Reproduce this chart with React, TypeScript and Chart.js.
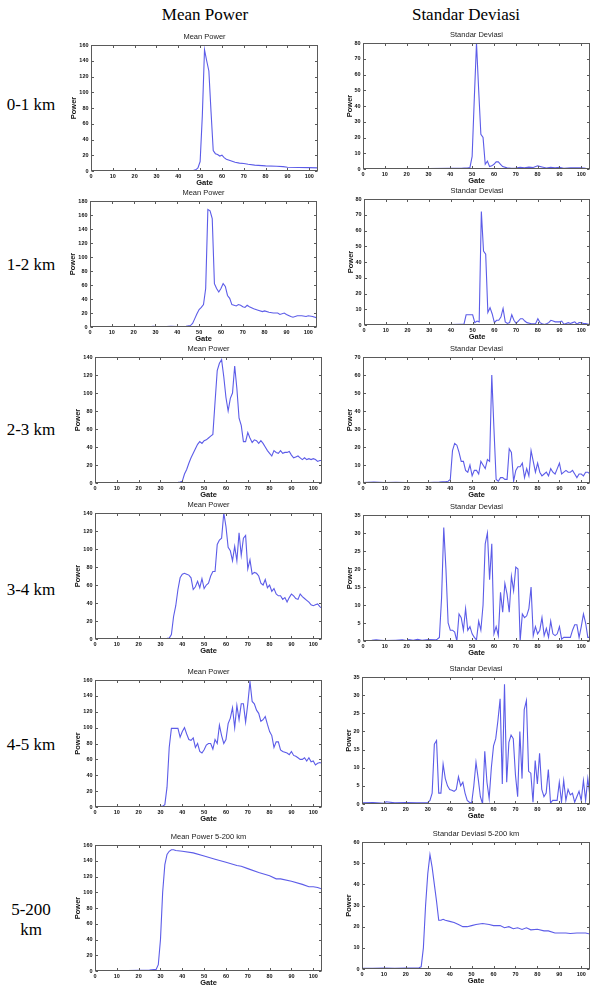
import React, { useEffect, useRef } from "react";
import { Chart, registerables } from "chart.js";

Chart.register(...registerables);

type Pt = [number, number];

// Gate / power samples for each range bin (gate, value)
const mean01: Pt[] = [[0,0.5],[5,0.3],[10,0.4],[15,0.3],[20,0.5],[25,0.3],[30,0.4],[35,0.3],[40,0.5],[45,0.6],[47,0.8],[48,1.5],[49,4],[50,12],[51,70],[52,154],[53,140],[54,127],[55,75],[56,26],[57,22],[58,21],[59,19],[60,20],[61,17],[62,15],[64,13],[66,11],[68,10],[70,9.5],[72,8.5],[75,7.5],[80,6.5],[85,6],[88,5.5],[90,4.8],[95,4.5],[100,4.3],[104,4]];
const sd01: Pt[] = [[0,0.2],[10,0.3],[20,0.2],[30,0.3],[40,0.4],[45,0.5],[48,0.8],[49,1],[50,8],[51,45],[52,80],[53,50],[54,22],[55,20],[56,3],[57,5],[58,1.5],[59,2],[60,3],[61,4.5],[62,4.5],[63,3],[64,1.5],[66,0.7],[68,0.5],[70,0.6],[72,1],[74,0.8],[76,1.2],[78,1],[80,2],[82,1.3],[84,0.6],[86,1],[88,0.8],[90,1],[92,0.5],[95,0.8],[98,0.7],[100,0.8],[102,0.4],[104,0.3]];

const mean12: Pt[] = [[0,0.3],[10,0.3],[20,0.3],[28,0.5],[29,1],[30,0.5],[35,0.5],[37,1],[40,0.8],[44,1],[46,2],[47,5],[48,12],[49,19],[50,25],[51,28],[52,32],[53,55],[54,168],[55,166],[56,155],[57,62],[58,55],[59,50],[60,55],[61,62],[62,58],[63,45],[64,41],[65,32],[66,31],[67,30],[68,32],[69,31],[70,29],[71,28],[72,31],[73,29],[75,26],[77,24],[79,22],[80,23],[82,21],[84,20],[86,20],[87,18],[89,20],[90,18],[92,15],[93,14],[95,16],[97,16],[99,15],[100,16],[102,15],[104,13]];
const sd12: Pt[] = [[0,0.2],[10,0.2],[20,0.2],[30,0.2],[38,0.3],[40,0.3],[44,0.4],[46,0.5],[47,6.5],[48,6.5],[49,6.5],[50,6.5],[51,1.5],[52,2.5],[53,2],[54,72],[55,47],[56,45],[57,8],[58,11],[59,7],[60,1.5],[61,3],[62,3],[63,5],[64,10.5],[65,2],[66,1],[67,1.5],[68,6.5],[69,3],[70,1],[71,2.5],[72,4],[73,4],[74,2.5],[75,1.5],[77,0.8],[79,1],[80,4],[81,1.5],[82,0.8],[83,0.3],[84,0.8],[85,1.5],[86,3],[87,2.5],[88,2],[90,2],[91,2.5],[92,0.5],[93,1],[94,1.5],[95,1],[96,1.5],[97,2],[98,0.5],[99,1.5],[100,1.5],[101,1],[102,1],[104,0.3]];

const mean23: Pt[] = [[0,0.5],[5,0.3],[10,0.5],[15,0.3],[20,0.5],[25,0.3],[30,0.4],[35,0.5],[38,0.8],[39,1],[40,2],[41,10],[42,15],[43,22],[44,28],[45,33],[46,38],[47,43],[48,46],[49,44],[50,47],[51,48],[52,50],[53,52],[54,54],[55,90],[56,125],[57,133],[58,137],[59,118],[60,95],[61,80],[62,94],[63,100],[64,130],[65,105],[66,72],[67,64],[68,46],[69,46],[70,56],[71,50],[72,45],[73,48],[74,47],[75,44],[76,47],[77,44],[78,40],[79,36],[80,33],[81,30],[82,36],[83,34],[84,33],[85,36],[86,33],[87,34],[88,34],[89,35],[90,31],[91,28],[92,29],[93,30],[94,28],[95,26],[96,28],[97,26],[98,27],[99,26],[100,27],[101,26],[102,24],[103,25],[104,25]];
const sd23: Pt[] = [[0,0.3],[5,0.5],[10,0.3],[15,0.4],[20,0.3],[25,0.2],[30,0.3],[35,0.5],[38,0.8],[39,1],[40,2],[41,18],[42,22],[43,21],[44,17],[45,12],[46,12],[47,7],[48,6],[49,10],[50,4],[51,7],[52,7],[53,5],[54,12],[55,10],[56,8],[57,13],[58,12],[59,60],[60,30],[61,2],[62,1],[63,3],[64,3],[65,2],[66,2],[67,19],[68,17],[69,1],[70,7],[71,9],[72,9],[73,11],[74,3],[75,8],[76,4],[77,18],[78,12],[79,6],[80,11],[81,6],[82,4],[83,5],[84,6],[85,4],[86,8],[87,6],[88,5],[89,8],[90,11],[91,5],[92,6],[93,7],[94,6],[95,6],[96,7],[97,5],[98,3],[99,5],[100,5],[101,4],[102,6],[103,6],[104,5]];

const mean34: Pt[] = [[0,0.5],[5,0.3],[10,0.5],[15,0.3],[20,0.5],[25,0.3],[30,0.6],[33,0.8],[34,1],[35,5],[36,25],[37,37],[38,55],[39,68],[40,72],[41,73],[42,72],[43,71],[44,68],[45,55],[46,58],[47,64],[48,57],[49,67],[50,56],[51,60],[52,62],[53,70],[54,75],[55,75],[56,105],[57,110],[58,112],[59,140],[60,125],[61,102],[62,98],[63,87],[64,103],[65,87],[66,118],[67,93],[68,112],[69,115],[70,78],[71,88],[72,72],[73,74],[74,73],[75,70],[76,62],[77,60],[78,66],[79,57],[80,60],[81,53],[82,56],[83,50],[84,48],[85,48],[86,44],[87,46],[88,41],[89,46],[90,50],[91,48],[92,45],[93,44],[94,50],[95,47],[96,45],[97,43],[98,41],[99,38],[100,37],[101,38],[102,39],[103,36],[104,34]];
const sd34: Pt[] = [[0,0.1],[4,0.2],[6,0.3],[8,0.2],[10,0.1],[15,0.2],[18,0.3],[20,0.1],[21,0.4],[23,0.2],[25,0.5],[27,0.2],[30,0.4],[33,0.3],[34,0.5],[35,1],[36,12],[37,31.5],[38,20],[39,5],[40,3],[41,3],[42,2.5],[43,0],[44,7.5],[45,6.5],[46,3],[47,9],[48,3],[49,4],[50,2],[51,1],[52,0.3],[53,5.5],[54,3],[55,10],[56,27],[57,30],[58,17],[59,27],[60,2],[61,4],[62,1.5],[63,13.5],[64,8],[65,16],[66,13],[67,8],[68,18],[69,14],[70,20.5],[71,20],[72,0],[73,7.5],[74,6.5],[75,7],[76,9],[77,15],[78,1.5],[79,4],[80,2],[81,3],[82,6.5],[83,1.5],[84,3.5],[85,1],[86,5.5],[87,2],[88,1.5],[89,2],[90,4],[91,0.5],[92,1],[93,1],[94,1],[95,1],[96,3],[97,4.5],[98,4.5],[99,1],[100,4],[101,7.5],[102,5],[103,1],[104,1]];

const mean45: Pt[] = [[0,0.5],[5,0.3],[10,0.5],[15,0.3],[20,0.6],[25,0.3],[28,0.6],[30,0.8],[31,1],[32,3],[33,25],[34,75],[35,99],[36,99],[37,99],[38,99],[39,88],[40,95],[41,100],[42,92],[43,85],[44,84],[45,87],[46,75],[47,80],[48,70],[49,68],[50,72],[51,78],[52,80],[53,80],[54,73],[55,85],[56,80],[57,103],[58,90],[59,80],[60,85],[61,105],[62,112],[63,125],[64,100],[65,128],[66,110],[67,130],[68,130],[69,107],[70,130],[71,158],[72,133],[73,130],[74,122],[75,118],[76,108],[77,110],[78,114],[79,104],[80,95],[81,90],[82,75],[83,82],[84,82],[85,72],[86,70],[87,69],[88,68],[89,66],[90,70],[91,65],[92,64],[93,62],[94,60],[95,60],[96,62],[97,58],[98,62],[99,57],[100,58],[101,53],[102,55],[103,56],[104,55]];
const sd45: Pt[] = [[0,0.3],[5,0.4],[10,0.2],[11,0.6],[15,0.3],[20,0.4],[25,0.3],[30,0.4],[31,1],[32,3],[33,16.5],[34,17.5],[35,3],[36,3],[37,11],[38,7],[39,5],[40,4],[41,3.8],[42,3.5],[43,4],[44,7.5],[45,5],[46,6],[47,3],[48,1],[49,0.5],[50,0.2],[51,5],[52,11.5],[53,7],[54,2],[55,0],[56,14.5],[57,6],[58,1.5],[59,10],[60,16],[61,18],[62,23],[63,29],[64,5.5],[65,33],[66,6],[67,17],[68,19],[69,18],[70,8],[71,2],[72,20],[73,7],[74,26],[75,28.5],[76,9],[77,8.5],[78,0.5],[79,12],[80,5.5],[81,14],[82,4],[83,2],[84,3],[85,9.5],[86,0.3],[87,1],[88,1],[89,1],[90,6],[91,0.5],[92,6.5],[93,1],[94,4],[95,2.5],[96,3],[97,0.5],[98,2],[99,3.5],[100,1],[101,6.5],[102,1],[103,7],[104,2]];

const mean5200: Pt[] = [[0,0.5],[5,0.6],[10,0.4],[15,0.6],[20,0.8],[25,1.2],[27,1.7],[28,2],[29,8],[30,40],[31,100],[32,135],[33,148],[34,152],[35,154],[36,154],[37,153],[40,152],[45,150],[50,146],[55,142],[60,138],[65,134],[67,133],[70,130],[75,125],[80,121],[83,117],[85,117],[90,114],[95,110],[98,107],[100,107],[102,106],[104,104]];
const sd5200: Pt[] = [[0,0.3],[5,0.3],[10,0.4],[15,0.3],[20,0.4],[25,0.5],[26,0.6],[27,1],[28,10],[29,30],[30,45],[31,54],[32,48],[33,40],[34,32],[35,23],[36,23],[37,23.5],[38,23],[40,22.5],[42,22],[44,21],[46,20],[48,20],[50,20.5],[52,21],[55,21.5],[58,21],[60,20.5],[63,20.5],[65,19.5],[67,20],[69,19],[71,19.5],[73,18.7],[75,19.5],[77,18.5],[80,18.8],[83,18],[85,18],[88,17],[90,17],[93,17],[95,16.8],[98,17],[100,17],[102,17],[104,16.5]];

const columnTitles = ["Mean Power", "Standar Deviasi"];
const rowLabels = ["0-1 km", "1-2 km", "2-3 km", "3-4 km", "4-5 km", "5-200\nkm"];
const GATE_MAX = 104;

const LINE = "#5c5ce8";
const SANS = "'Liberation Sans', Arial, sans-serif";
const SERIF = "'Liberation Serif', 'Times New Roman', serif";

type PanelSpec = {
  title: string;
  pts: Pt[];
  yMax: number;
  yStep: number;
  // plot-area box in page pixels
  left: number;
  top: number;
  right: number;
  bottom: number;
  labelGap: number;
};

const Y_W = 30;
const X_H = 22;
const PAD_T = 14;
const PAD_R = 6;

const panels: PanelSpec[] = [
  { title: "Mean Power", pts: mean01, yMax: 160, yStep: 20, left: 91, top: 45, right: 318, bottom: 171, labelGap: 17 },
  { title: "Standar Deviasi", pts: sd01, yMax: 80, yStep: 10, left: 363, top: 43, right: 590, bottom: 169, labelGap: 13.5 },
  { title: "Mean Power", pts: mean12, yMax: 180, yStep: 20, left: 90, top: 201, right: 317, bottom: 327, labelGap: 17 },
  { title: "Standar Deviasi", pts: sd12, yMax: 80, yStep: 10, left: 364, top: 199, right: 590, bottom: 325, labelGap: 13.5 },
  { title: "Mean Power", pts: mean23, yMax: 140, yStep: 20, left: 95, top: 357, right: 322, bottom: 483, labelGap: 17 },
  { title: "Standar Deviasi", pts: sd23, yMax: 70, yStep: 10, left: 363, top: 357, right: 590, bottom: 483, labelGap: 13.5 },
  { title: "Mean Power", pts: mean34, yMax: 140, yStep: 20, left: 95, top: 513, right: 322, bottom: 639, labelGap: 17 },
  { title: "Standar Deviasi", pts: sd34, yMax: 35, yStep: 5, left: 363, top: 515, right: 590, bottom: 641, labelGap: 13.5 },
  { title: "Mean Power", pts: mean45, yMax: 160, yStep: 20, left: 95, top: 680, right: 322, bottom: 807, labelGap: 17 },
  { title: "Standar Deviasi", pts: sd45, yMax: 35, yStep: 5, left: 362, top: 677, right: 590, bottom: 804, labelGap: 13.5 },
  { title: "Mean Power 5-200 km", pts: mean5200, yMax: 160, yStep: 20, left: 95, top: 845, right: 322, bottom: 971, labelGap: 17 },
  { title: "Standar Deviasi 5-200 km", pts: sd5200, yMax: 60, yStep: 10, left: 362, top: 842, right: 590, bottom: 969, labelGap: 13.5 },
];

// Box around the plot area, inward tick marks on all four sides and the panel title
const boxPlugin = {
  id: "matlabBox",
  afterDraw(chart: any, _args: any, opts: any) {
    const { ctx, chartArea: a, scales } = chart;
    const l = Math.round(a.left) + 0.5;
    const t = Math.round(a.top) + 0.5;
    const r = Math.round(a.right) - 0.5;
    const b = Math.round(a.bottom) - 0.5;
    ctx.save();
    ctx.strokeStyle = "#5a5a5a";
    ctx.lineWidth = 1;
    ctx.strokeRect(l, t, r - l, b - t);
    ctx.beginPath();
    const tl = 2.5;
    scales.x.ticks.forEach((tk: any) => {
      const px = Math.round(scales.x.getPixelForValue(tk.value)) + 0.5;
      ctx.moveTo(px, b);
      ctx.lineTo(px, b - tl);
      ctx.moveTo(px, t);
      ctx.lineTo(px, t + tl);
    });
    scales.y.ticks.forEach((tk: any) => {
      const py = Math.round(scales.y.getPixelForValue(tk.value)) + 0.5;
      ctx.moveTo(l, py);
      ctx.lineTo(l + tl, py);
      ctx.moveTo(r, py);
      ctx.lineTo(r - tl, py);
    });
    ctx.stroke();
    ctx.fillStyle = "#222";
    ctx.font = `7.5px ${SANS}`;
    ctx.textAlign = "center";
    ctx.textBaseline = "middle";
    ctx.fillText(opts.text, (a.left + a.right) / 2, a.top - 8);
    ctx.restore();
  },
};

function Panel({ spec }: { spec: PanelSpec }) {
  const ref = useRef<HTMLCanvasElement>(null);
  const w = spec.right - spec.left + Y_W + PAD_R;
  const h = spec.bottom - spec.top + PAD_T + X_H;

  useEffect(() => {
    const tickFont = { size: 5.5, weight: "bold" as const, family: SANS };
    const titleFont = { size: 7.5, weight: "bold" as const, family: SANS, lineHeight: 1.2 };
    const chart = new Chart(ref.current as HTMLCanvasElement, {
      type: "line",
      data: {
        datasets: [
          {
            data: spec.pts.map(([x, y]) => ({ x, y })),
            borderColor: LINE,
            borderWidth: 1.1,
            pointRadius: 0,
            tension: 0,
            fill: false,
          },
        ],
      },
      options: {
        animation: false,
        responsive: false,
        maintainAspectRatio: false,
        events: [],
        layout: { padding: { top: PAD_T, right: PAD_R, left: 0, bottom: 0 } },
        plugins: {
          legend: { display: false },
          tooltip: { enabled: false },
          title: { display: false },
          matlabBox: { text: spec.title },
        } as any,
        scales: {
          x: {
            type: "linear",
            min: 0,
            max: GATE_MAX,
            afterFit: (s: any) => {
              s.height = X_H;
            },
            grid: { display: false, drawTicks: false },
            border: { display: false },
            ticks: {
              stepSize: 10,
              includeBounds: false,
              autoSkip: false,
              maxRotation: 0,
              padding: 2,
              font: tickFont,
              color: "#111",
            },
            title: { display: true, text: "Gate", padding: { top: 0, bottom: 5.5 }, font: titleFont, color: "#111" },
          },
          y: {
            type: "linear",
            min: 0,
            max: spec.yMax,
            afterFit: (s: any) => {
              s.width = Y_W;
            },
            grid: { display: false, drawTicks: false },
            border: { display: false },
            ticks: {
              stepSize: spec.yStep,
              includeBounds: false,
              autoSkip: false,
              padding: 2.5,
              font: tickFont,
              color: "#111",
            },
            title: {
              display: true,
              text: "Power",
              padding: { top: Y_W - spec.labelGap - 4.5, bottom: 0 },
              font: titleFont,
              color: "#111",
            },
          },
        },
      },
      plugins: [boxPlugin],
    } as any);
    return () => chart.destroy();
  }, [spec]);

  return (
    <canvas
      ref={ref}
      width={w}
      height={h}
      style={{ position: "absolute", left: spec.left - Y_W, top: spec.top - PAD_T, width: w, height: h }}
    />
  );
}

const rowCenters = [105, 265, 430, 590, 745, 920];
const columnCenters = [205, 466];

export default function App() {
  return (
    <div style={{ position: "absolute", left: 0, top: 0, width: 604, height: 999, background: "#fff", overflow: "hidden" }}>
      {columnTitles.map((t, i) => (
        <div
          key={t}
          style={{
            position: "absolute",
            left: columnCenters[i],
            top: 15,
            transform: "translate(-50%, -50%)",
            fontFamily: SERIF,
            fontSize: 17,
            whiteSpace: "nowrap",
            color: "#000",
          }}
        >
          {t}
        </div>
      ))}
      {rowLabels.map((t, i) => (
        <div
          key={t}
          style={{
            position: "absolute",
            left: 31,
            top: rowCenters[i],
            transform: "translate(-50%, -50%)",
            fontFamily: SERIF,
            fontSize: 17,
            lineHeight: "20px",
            textAlign: "center",
            whiteSpace: "pre",
            color: "#000",
          }}
        >
          {t}
        </div>
      ))}
      {panels.map((p, i) => (
        <Panel key={i} spec={p} />
      ))}
    </div>
  );
}
